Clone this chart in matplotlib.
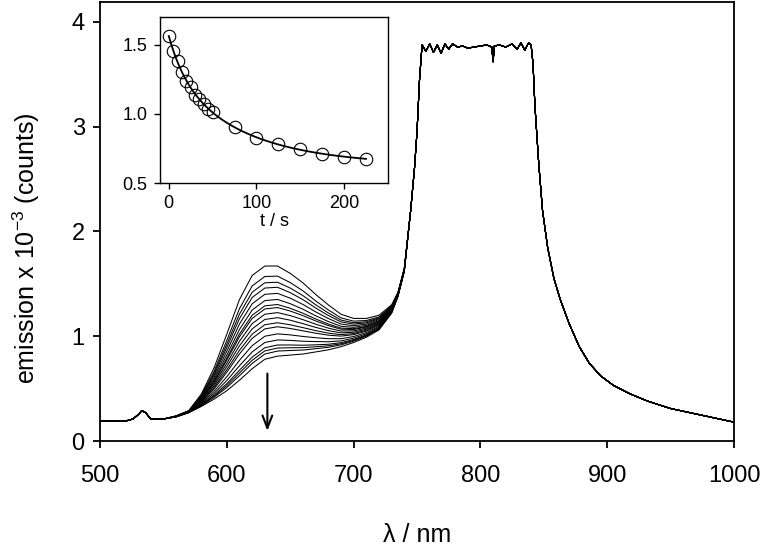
import numpy as np
import matplotlib
matplotlib.use("Agg")
import matplotlib.pyplot as plt

plt.rcParams['font.family'] = ['Liberation Sans', 'DejaVu Sans']
plt.rcParams['mathtext.default'] = 'regular'

# ---- main spectra data (emission x 1e-3 counts) ----
# visible part: wavelengths, last (lowest) spectrum and first (highest) spectrum
WL_VIS = [500, 510, 520, 526, 530, 533, 536, 540, 550, 560, 570, 580, 590, 600,
          610, 620, 630, 640, 650, 660, 670, 680, 690, 700, 710, 720, 730, 735,
          740, 745, 748, 750, 752]
LAST_VIS = [0.19, 0.19, 0.19, 0.21, 0.25, 0.29, 0.27, 0.21, 0.21, 0.23, 0.27, 0.33,
            0.40, 0.48, 0.58, 0.69, 0.78, 0.81, 0.82, 0.83, 0.85, 0.87, 0.90, 0.94,
            0.99, 1.06, 1.22, 1.38, 1.62, 2.20, 2.60, 2.95, 3.45]
FIRST_VIS = [0.19, 0.19, 0.19, 0.21, 0.25, 0.29, 0.27, 0.21, 0.21, 0.24, 0.29, 0.45,
             0.70, 1.02, 1.35, 1.58, 1.67, 1.67, 1.60, 1.51, 1.40, 1.30, 1.21, 1.17,
             1.17, 1.20, 1.30, 1.42, 1.65, 2.20, 2.60, 2.95, 3.45]
# band maximum (~630 nm) of each successive spectrum
PEAK_630 = [1.67, 1.57, 1.51, 1.46, 1.40, 1.34, 1.29, 1.26, 1.21, 1.16, 1.11,
            1.07, 1.00, 0.94, 0.89, 0.86, 0.83, 0.78]

# near-IR part shared by all spectra (saturated detector plateau)
WL_NIR = [754, 757, 760, 763, 766, 769, 772, 775, 778, 782, 786, 790, 795, 800,
          805, 809, 810, 811, 815, 820, 825, 829, 832, 835, 838, 840, 841.5, 843,
          846, 849, 853, 858, 863, 870, 878, 886, 895, 905, 918, 932, 950, 973, 1000]
NIR = [3.78, 3.72, 3.79, 3.71, 3.78, 3.70, 3.79, 3.74, 3.79, 3.76, 3.77, 3.75,
       3.76, 3.77, 3.78, 3.76, 3.62, 3.77, 3.78, 3.76, 3.79, 3.74, 3.80, 3.73,
       3.80, 3.78, 3.60, 3.20, 2.65, 2.20, 1.85, 1.55, 1.35, 1.12, 0.90, 0.74,
       0.62, 0.53, 0.45, 0.38, 0.31, 0.25, 0.18]

# ---- inset data ----
T_S = [0, 5, 10, 15, 20, 25, 30, 35, 40, 45, 50, 75, 100, 125, 150, 175, 200, 225]
I_VAL = [1.5625, 1.4575, 1.38, 1.30, 1.2375, 1.1925, 1.1375, 1.1075, 1.0675,
         1.0375, 1.0125, 0.905, 0.825, 0.78, 0.7425, 0.7125, 0.6875, 0.675]

fig = plt.figure(figsize=(7.65, 5.55), dpi=100)
ax = fig.add_axes([100/765, 1-441/555, 634/765, 439/555])

wl_vis = np.array(WL_VIS, float)
last = np.array(LAST_VIS)
first = np.array(FIRST_VIS)
wl = np.concatenate([wl_vis, WL_NIR])
for p in PEAK_630:
    frac = (p - PEAK_630[-1]) / (PEAK_630[0] - PEAK_630[-1])
    vis = last + frac * (first - last)
    ax.plot(wl, np.concatenate([vis, NIR]), color='black', lw=0.75)

ax.set_xlim(500, 1000)
ax.set_ylim(0, 4.19)
ax.set_xticks([500, 600, 700, 800, 900, 1000])
ax.set_yticks([0, 1, 2, 3, 4])
ax.tick_params(direction='out', length=5, width=1.3, labelsize=17, pad=6)
ax.tick_params(axis='x', pad=12)
for s in ax.spines.values():
    s.set_linewidth(1.3)
ax.set_xlabel('λ / nm', fontsize=18, labelpad=26)
ax.set_ylabel('emission x 10$^{-3}$ (counts)', fontsize=18)
ax.yaxis.set_label_coords(-0.092, 0.44)

ax.annotate('', xy=(632, 0.07), xytext=(632, 0.67),
            arrowprops=dict(arrowstyle='->,head_length=0.9,head_width=0.35',
                            lw=1.5, color='black'))

# ---- inset ----
ins = fig.add_axes([160/765, 1-183/555, 228/765, 166/555])
t = np.array(T_S, float)
y = np.array(I_VAL)
best = None
for t1 in np.linspace(3, 80, 78):
    for t2 in np.linspace(20, 600, 117):
        A = np.column_stack([np.ones_like(t), np.exp(-t/t1), np.exp(-t/t2)])
        c, *_ = np.linalg.lstsq(A, y, rcond=None)
        r = np.sum((A @ c - y)**2)
        if best is None or r < best[0]:
            best = (r, t1, t2, c)
_, t1, t2, c = best
tf = np.linspace(0, 225, 300)
ins.plot(tf, c[0] + c[1]*np.exp(-tf/t1) + c[2]*np.exp(-tf/t2), color='black', lw=1.3)
ins.plot(t, y, 'o', mfc='none', mec='black', ms=9, mew=0.8)
ins.set_xlim(-10, 250)
ins.set_ylim(0.5, 1.70)
ins.set_xticks([0, 100, 200])
ins.set_yticks([0.5, 1.0, 1.5])
ins.set_yticklabels(['0.5', '1.0', '1.5'])
ins.tick_params(direction='out', length=4, width=1.0, labelsize=13, pad=5)
for s in ins.spines.values():
    s.set_linewidth(1.0)
ins.set_xlabel('t / s', fontsize=13, labelpad=0)

fig.savefig('out.png', dpi=100)
